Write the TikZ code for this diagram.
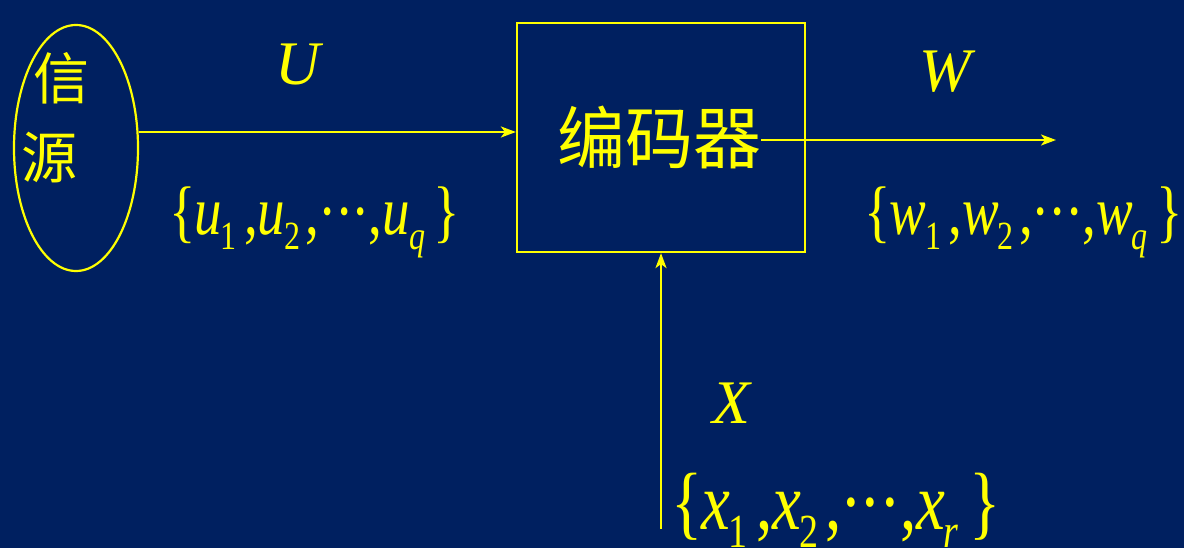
\documentclass[tikz,border=0pt]{standalone}
\usepackage{fontspec}
\setmainfont{Liberation Serif}
\newfontfamily\cjk{Noto Sans CJK SC}
\usetikzlibrary{arrows.meta,shapes.geometric}
\definecolor{bgnavy}{HTML}{002060}
\definecolor{ylw}{HTML}{FFFF00}
\newcommand\subx[2]{\raisebox{-0.22em}{\fontsize{#1}{#1}\selectfont #2}}
\newcommand\mset[6]{{\fontsize{#1}{#1}\selectfont\{\kern-0.03em\textit{#3}\kern-0.02em\subx{#2}{#4}\kern0.13em,\textit{#3}\kern-0.02em\subx{#2}{#5}\kern0.1em,\kern-0.02em\textperiodcentered\kern-0.03em\textperiodcentered\kern-0.03em\textperiodcentered\kern-0.02em,\textit{#3}\kern-0.02em\subx{#2}{\itshape #6}\kern0.16em\}}}
\tikzset{
  yl/.style={draw=ylw, line width=2.2pt},
  conn/.style={yl, -{Stealth[length=15pt,width=11pt,inset=4pt]}},
  lbl/.style={text=ylw, inner sep=0pt, font=\fontsize{62}{62}\selectfont\itshape},
  cjkt/.style={text=ylw, inner sep=0pt},
}
\begin{document}
\begin{tikzpicture}[x=1pt,y=-1pt]
\fill[bgnavy] (0,0) rectangle (1184,548);
\useasboundingbox (0,0) rectangle (1184,548);
% source ellipse
\node[yl, ellipse, minimum width=124pt, minimum height=246pt, inner sep=0pt] (src) at (76,148) {};
\node[cjkt, font=\cjk\fontsize{56}{56}\selectfont] (xin) at (62,78) {信};
\node[cjkt, font=\cjk\fontsize{56}{56}\selectfont] (yuan) at (49,158) {源};
% encoder box
\node[yl, rectangle, minimum width=288pt, minimum height=229pt, inner sep=0pt] (enc) at (661,137.5) {};
\node[cjkt, font=\cjk\fontsize{68}{68}\selectfont] (enctext) at (659,137) {编码器};
% labels
\node[lbl] (U) at (298,65) {U};
\node[lbl] (W) at (945,72) {W};
\node[lbl] (X) at (731,403) {X};
\node[text=ylw, inner sep=0pt] (uset) at (315,222) {\scalebox{1}[1.25]{\mset{55}{32}{u}{1}{2}{q}}};
\node[text=ylw, inner sep=0pt] (wset) at (1024,222) {\scalebox{1}[1.25]{\mset{55}{32}{w}{1}{2}{q}}};
\node[text=ylw, inner sep=0pt] (xset) at (836,510) {\scalebox{1}[1.25]{\mset{65}{38}{x}{1}{2}{r}}};
% connectors
\coordinate (srcout) at (src.east |- 0,132);
\coordinate (encin) at (enc.west |- 0,132);
\draw[conn] (srcout) -- (encin);
\coordinate (wstart) at (enctext.east |- 0,140);
\coordinate (wend) at (1056,140);
\draw[conn] (wstart) -- (wend);
\coordinate (xstart) at (661,529);
\draw[conn] (xstart) -- (enc.south);
\end{tikzpicture}
\end{document}
